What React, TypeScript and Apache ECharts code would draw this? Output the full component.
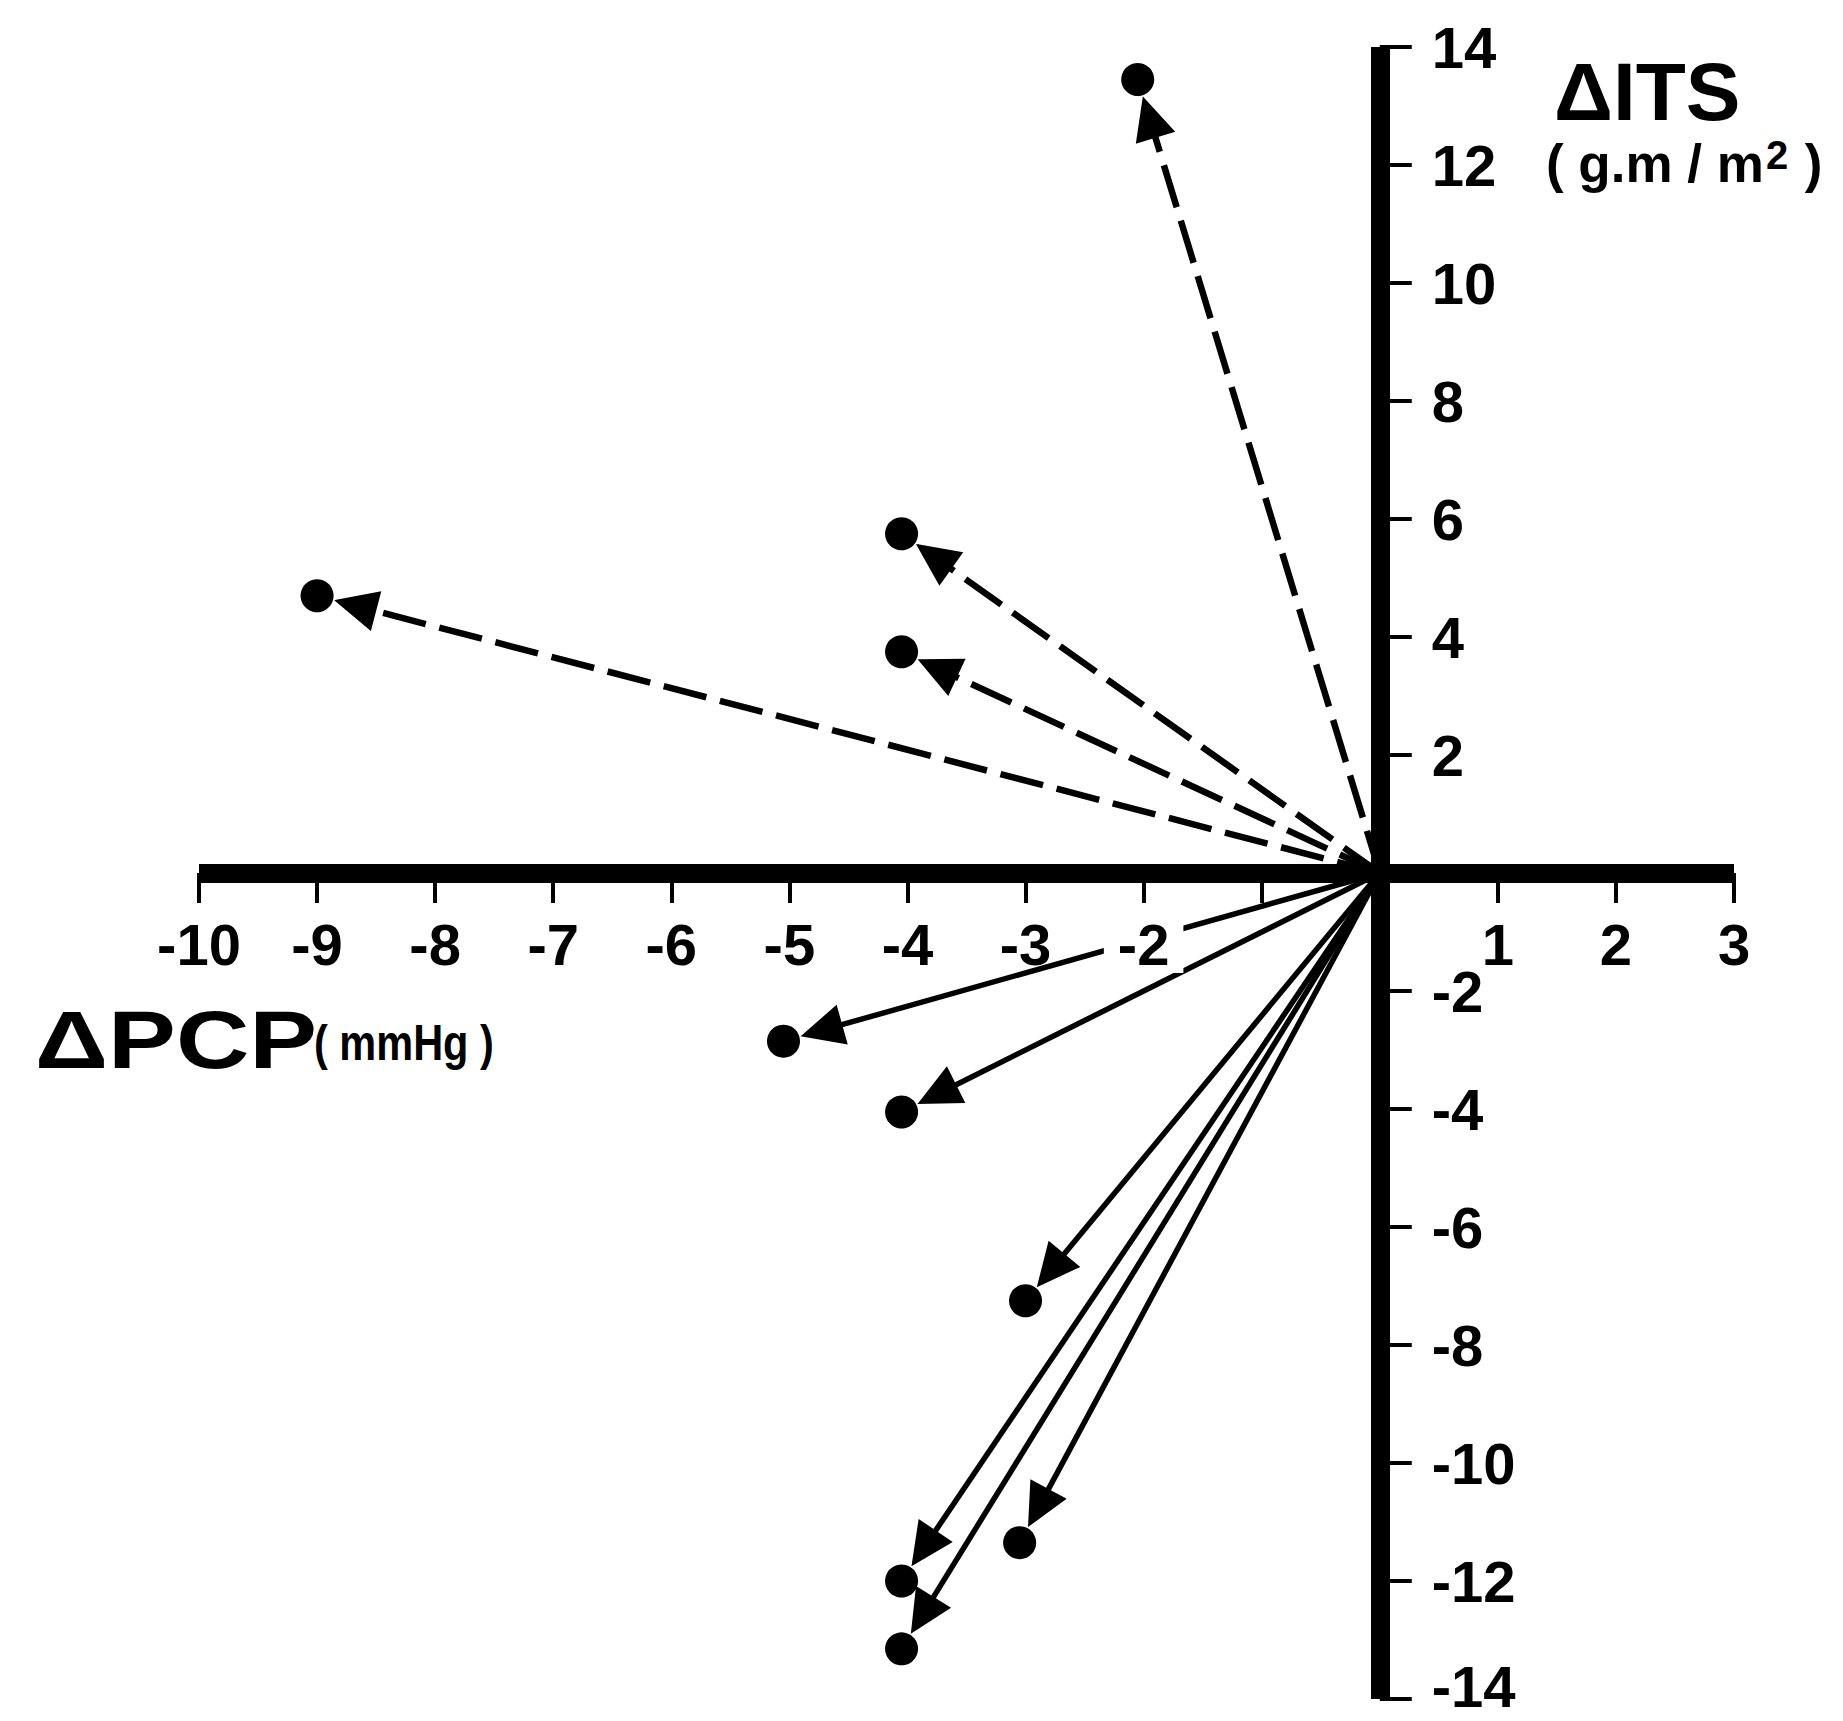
import React, { useEffect, useRef } from "react";
import * as echarts from "echarts";

// ΔPCP (mmHg) and ΔITS (g.m/m²) of each arrow end point
const pcpChange = [-2.05, -4.05, -4.05, -9.0, -5.05, -4.05, -3.0, -3.05, -4.05, -4.05];
const itsChange = [13.45, 5.75, 3.75, 4.7, -2.85, -4.05, -7.25, -11.35, -12.0, -13.15];

// axes
const xMin = -10;
const xMax = 3;
const xStep = 1;
const yMin = -14;
const yMax = 14;
const yStep = 2;
const hiddenXLabels = [0, -1];
const hiddenYLabels = [0];

const xTitle = "ΔPCP";
const xUnit = "( mmHg )";
const yTitle = "ΔITS";

const FONT = '"Liberation Sans", Arial, sans-serif';

const W = 1843;
const H = 1721;
const GRID = { left: 199, right: 109, top: 47, bottom: 22 };

export default function App() {
  const ref = useRef<HTMLDivElement>(null);

  useEffect(() => {
    const chart = echarts.init(ref.current!, null, { renderer: "svg" });
    const points = pcpChange.map((x, i) => [x, itsChange[i]]);

    const gridW = W - GRID.left - GRID.right;
    const gridH = H - GRID.top - GRID.bottom;
    // place the axes through the origin while keeping labels next to them
    const yAxisOffset = -(gridW * (0 - xMin)) / (xMax - xMin);
    const xAxisOffset = -(gridH * (0 - yMin)) / (yMax - yMin);

    const GAP = 20;
    const HEAD_LEN = 40;
    const HEAD_HALF = 19;

    const labelFont = { fontSize: 58, fontWeight: "bold", fontFamily: FONT, color: "#000" };

    chart.setOption({
      animation: false,
      backgroundColor: "#fff",
      grid: {
        ...GRID,
        containLabel: false,
        outerBoundsMode: "none",
      },
      xAxis: {
        type: "value",
        position: "bottom",
        offset: xAxisOffset,
        min: xMin,
        max: xMax,
        interval: xStep,
        z: 3,
        axisLine: { onZero: false, lineStyle: { color: "#000", width: 19, cap: "butt" } },
        axisTick: { show: true, inside: false, length: 30, lineStyle: { color: "#000", width: 4 } },
        splitLine: { show: false },
        axisLabel: {
          margin: 42,
          ...labelFont,
          formatter: (v: number) => {
            if (hiddenXLabels.includes(v)) return "";
            if (v === -2) return "{w|" + v + "}";
            return String(v);
          },
          rich: {
            w: { ...labelFont, backgroundColor: "#fff", padding: [0, 14, 0, 14] },
          },
        },
      },
      yAxis: {
        type: "value",
        position: "left",
        offset: yAxisOffset,
        min: yMin,
        max: yMax,
        interval: yStep,
        z: 3,
        axisLine: { onZero: false, lineStyle: { color: "#000", width: 19, cap: "butt" } },
        axisTick: { show: true, inside: true, length: 32, lineStyle: { color: "#000", width: 4 } },
        splitLine: { show: false },
        axisLabel: {
          inside: true,
          margin: 52,
          ...labelFont,
          lineHeight: 40,
          formatter: (v: number) => {
            if (hiddenYLabels.includes(v)) return "";
            if (v === yMin) return "{lo|" + v + "}";
            return String(v);
          },
          rich: {
            lo: { ...labelFont, lineHeight: 40, padding: [0, 0, 26, 0] },
          },
        },
      },
      series: [
        {
          type: "custom",
          z: 2,
          encode: { x: 0, y: 1 },
          data: points,
          renderItem: (params: any, api: any) => {
            const x = api.value(0);
            const y = api.value(1);
            const o = api.coord([0, 0]);
            const p = api.coord([x, y]);
            const dx = p[0] - o[0];
            const dy = p[1] - o[1];
            const len = Math.hypot(dx, dy);
            const ux = dx / len;
            const uy = dy / len;
            const tip = [p[0] - ux * GAP, p[1] - uy * GAP];
            const base = [tip[0] - ux * HEAD_LEN, tip[1] - uy * HEAD_LEN];
            const nx = -uy;
            const ny = ux;
            const dashed = y > 0;
            return {
              type: "group",
              children: [
                {
                  type: "line",
                  shape: { x1: o[0], y1: o[1], x2: base[0] + ux * 4, y2: base[1] + uy * 4 },
                  style: {
                    stroke: "#000",
                    lineWidth: dashed ? 6.5 : 5.5,
                    lineDash: dashed ? [44, 14] : null,
                    fill: null,
                  },
                },
                {
                  type: "polygon",
                  shape: {
                    points: [
                      tip,
                      [base[0] + nx * HEAD_HALF, base[1] + ny * HEAD_HALF],
                      [base[0] - nx * HEAD_HALF, base[1] - ny * HEAD_HALF],
                    ],
                  },
                  style: { fill: "#000", stroke: "#000", lineWidth: 2 },
                },
              ],
            };
          },
        },
        {
          type: "scatter",
          z: 5,
          data: points,
          symbol: "circle",
          symbolSize: 33,
          itemStyle: { color: "#000", opacity: 1 },
        },
      ],
      graphic: [
        {
          type: "text",
          x: 1554,
          y: 91,
          style: {
            text: yTitle,
            fill: "#000",
            fontSize: 82,
            fontWeight: "bold",
            fontFamily: FONT,
            textAlign: "left",
            textVerticalAlign: "middle",
          },
        },
        {
          type: "text",
          x: 1546,
          y: 163,
          style: {
            text: "( g.m / m{sup|2} )",
            fill: "#000",
            fontSize: 53,
            fontWeight: "bold",
            fontFamily: FONT,
            textAlign: "left",
            textVerticalAlign: "middle",
            rich: {
              sup: {
                fontSize: 40,
                fontWeight: "bold",
                fontFamily: FONT,
                fill: "#000",
                verticalAlign: "top",
                padding: [0, 2, 16, 2],
              },
            },
          },
        },
        {
          type: "text",
          x: 35,
          y: 1040,
          scaleX: 1.24,
          style: {
            text: xTitle,
            fill: "#000",
            fontSize: 82,
            fontWeight: "bold",
            fontFamily: FONT,
            textAlign: "left",
            textVerticalAlign: "middle",
          },
        },
        {
          type: "text",
          x: 314,
          y: 1043,
          scaleX: 0.83,
          style: {
            text: xUnit,
            fill: "#000",
            fontSize: 50,
            fontWeight: "bold",
            fontFamily: FONT,
            textAlign: "left",
            textVerticalAlign: "middle",
          },
        },
      ],
    });

    return () => chart.dispose();
  }, []);

  return (
    <div
      ref={ref}
      style={{ position: "absolute", left: 0, top: 0, width: W, height: H, background: "#fff" }}
    />
  );
}
